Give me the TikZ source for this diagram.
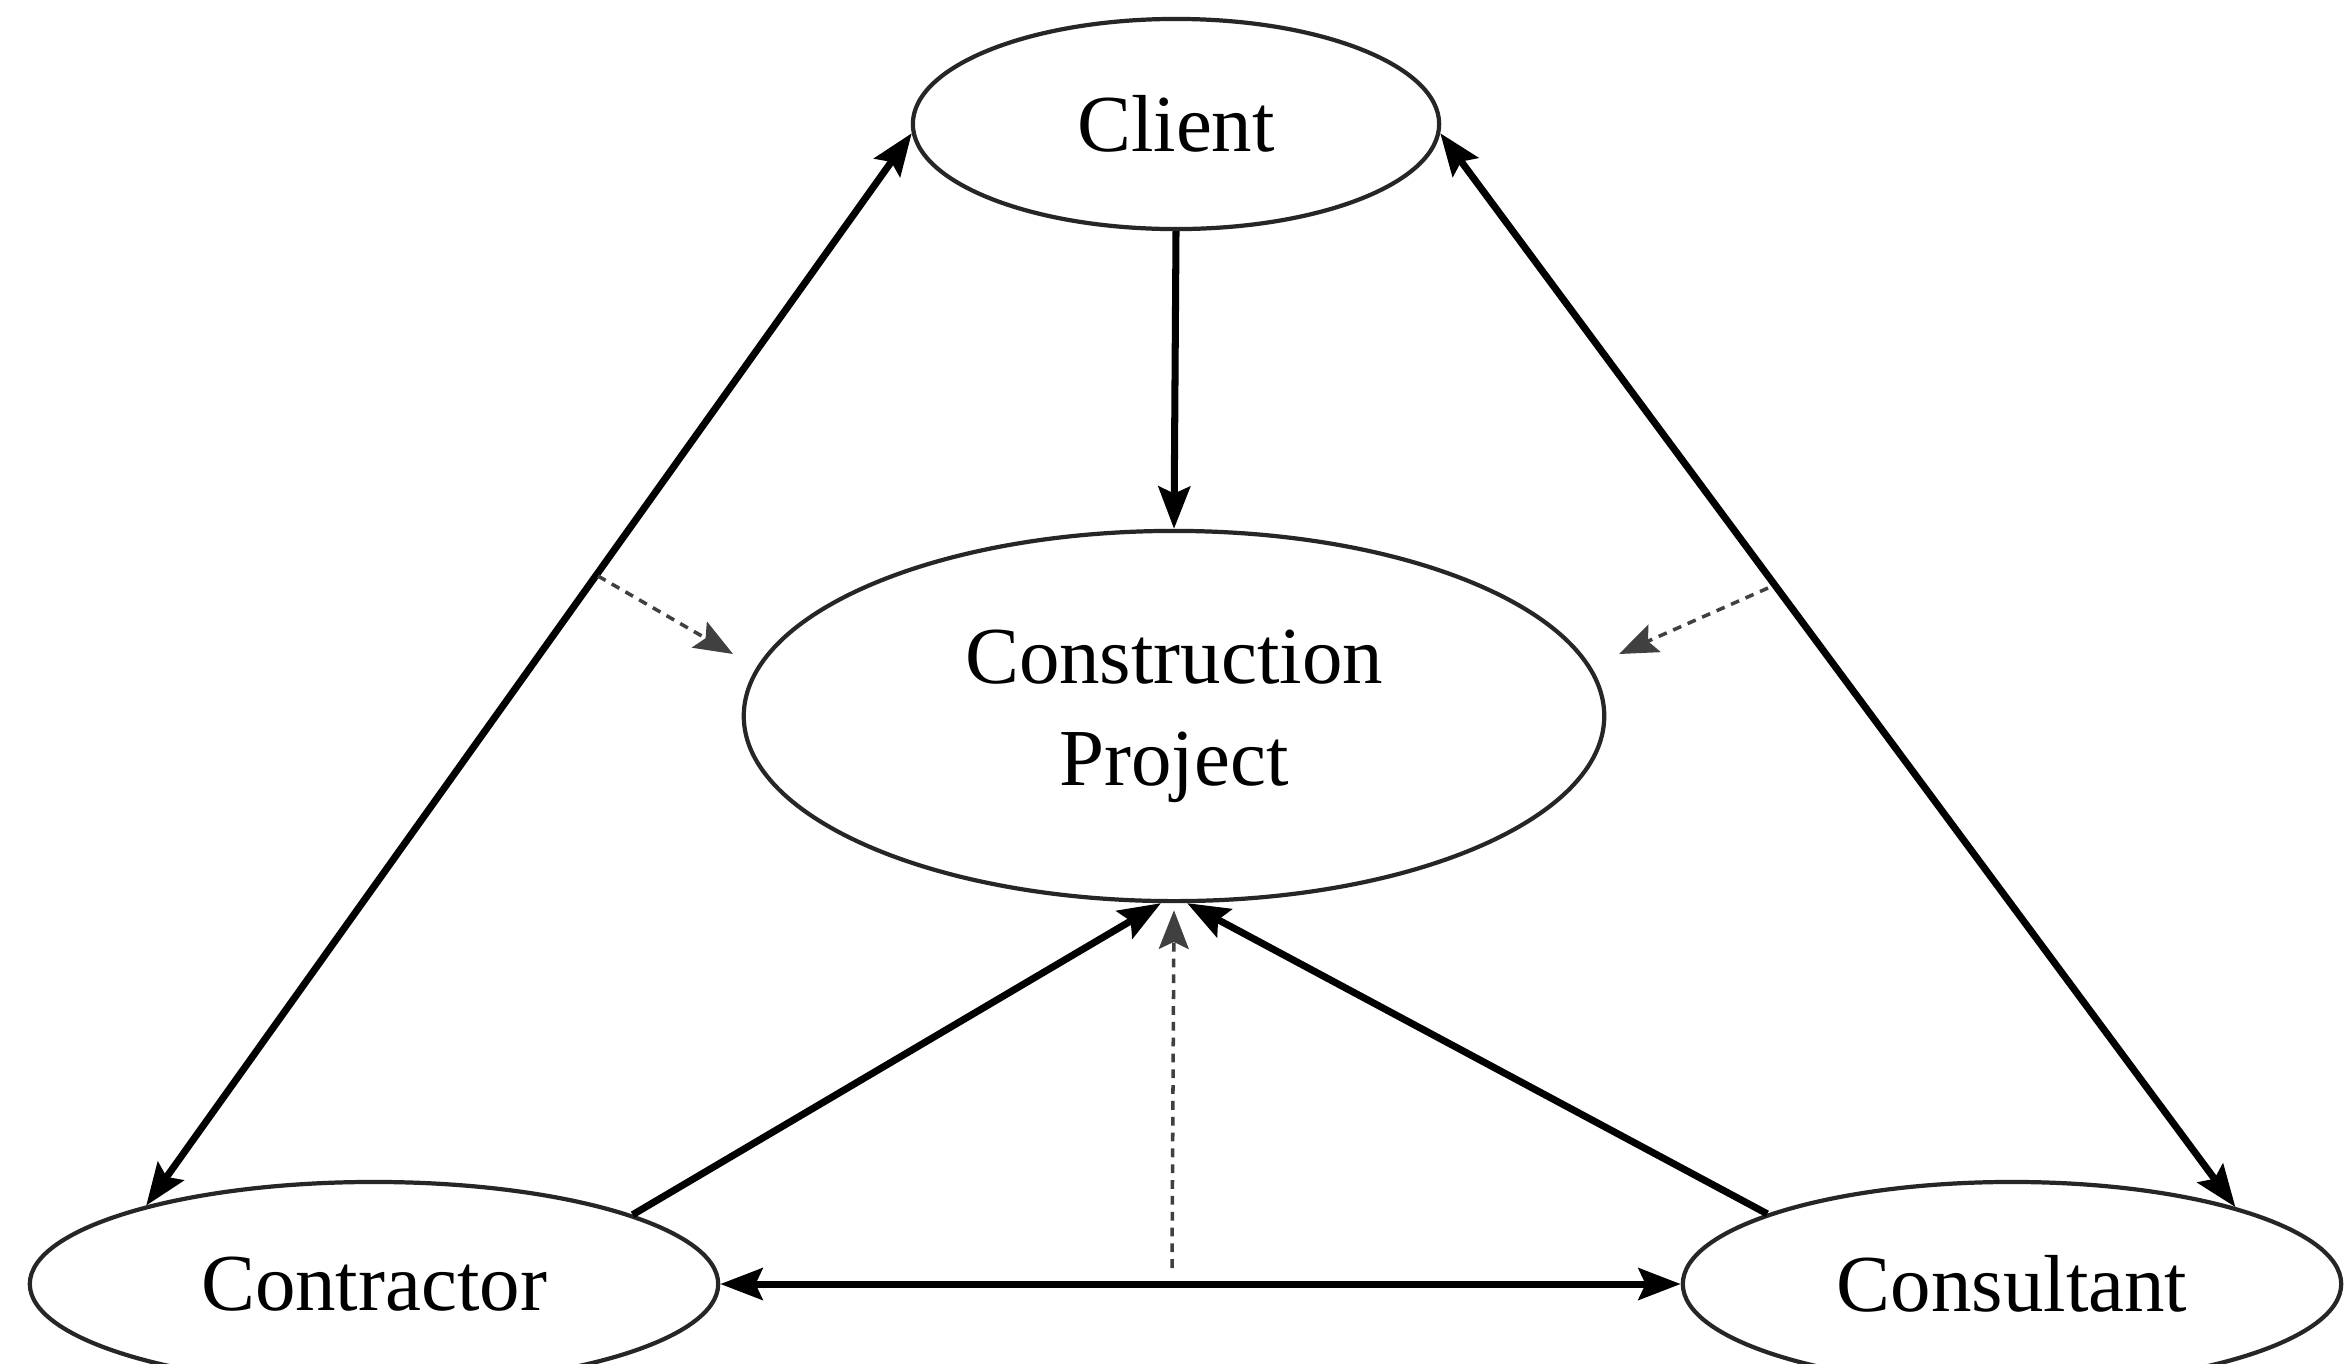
\documentclass[tikz,border=0pt]{standalone}
\usepackage{fontspec}
\setmainfont{Liberation Serif}
\usetikzlibrary{arrows.meta,shapes.geometric}
\begin{document}
\begin{tikzpicture}[x=0.01cm,y=-0.01cm,
  party/.style={draw=black!85,line width=1.2pt,ellipse,inner sep=0pt,align=center,
    font=\fontsize{23}{27}\selectfont},
  link/.style={line width=2pt,draw=black},
  tip/.style={-{Stealth[length=12pt,width=9pt,inset=2pt]}},
  both/.style={{Stealth[length=12pt,width=9pt,inset=2pt]}-{Stealth[length=12pt,width=9pt,inset=2pt]}},
  influence/.style={line width=1pt,draw=black!75,dash pattern=on 2.5pt off 2pt,
    -{Stealth[length=11pt,width=8.5pt,inset=2pt]}}]
\fill[white] (0,0) rectangle (2346,1363);
\useasboundingbox (0,0) rectangle (2346,1363);

\node[party,minimum width=5.26cm,minimum height=2.10cm] (client) at (1176,124) {Client};
\node[party,minimum width=8.60cm,minimum height=3.70cm] (cp) at (1174,716) {Construction\\[2pt]Project};
\node[party,minimum width=6.88cm,minimum height=2.04cm] (contractor) at (374,1284) {Contractor};
\node[party,minimum width=6.58cm,minimum height=2.04cm] (consultant) at (2012,1284) {Consultant};

\coordinate (dl1) at (598,576);
\coordinate (dl2) at (733,654);
\coordinate (dr1) at (1768,588);
\coordinate (dr2) at (1619,654);
\coordinate (dm) at (1172,1268);

\draw[link,tip] (client.south) -- (cp.north);
\draw[link,both] (client.182) -- (contractor.161);
\draw[link,both] (client.-2) -- (consultant.19);
\draw[link,tip] (contractor.15) -- (cp.266);
\draw[link,tip] (consultant.164) -- (cp.274);
\draw[link,both] (contractor.east) -- (consultant.west);

\draw[influence] (dl1) -- (dl2);
\draw[influence] (dr1) -- (dr2);
\draw[influence,shorten >=2pt] (dm) -- (cp.south);
\end{tikzpicture}
\end{document}
